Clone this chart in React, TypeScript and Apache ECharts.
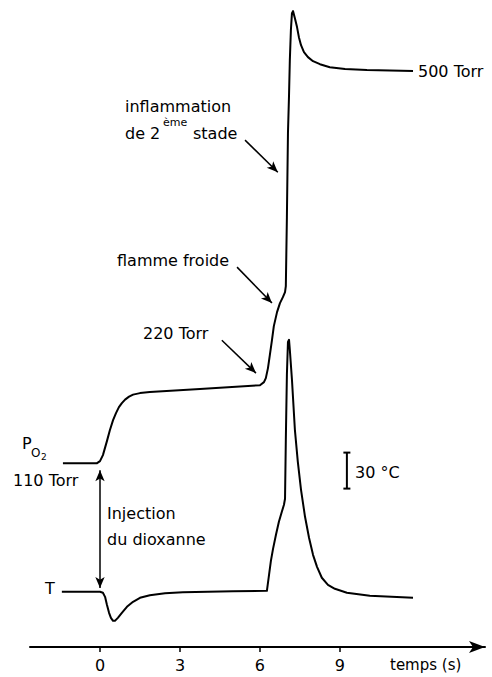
import React, { useEffect, useRef } from "react";
import * as echarts from "echarts";

// Time (s) and O2 pressure (Torr) of the pressure trace
const pressureTime = [-1.39, -0.11, 0, 0.11, 0.26, 0.37, 0.49, 0.6, 0.71, 0.82, 0.94, 1.09, 1.24, 1.5, 1.87, 3.75, 6.0, 6.15, 6.22, 6.3, 6.37, 6.45, 6.52, 6.64, 6.75, 6.86, 6.94, 6.97, 7.01, 7.05, 7.09, 7.12, 7.16, 7.2, 7.24, 7.31, 7.39, 7.46, 7.54, 7.65, 7.8, 7.99, 8.25, 8.62, 9.19, 10.01, 11.74];
const pressureTorr = [110, 110, 112, 118, 131.9, 142.8, 152.8, 159.8, 165.7, 169.7, 173.2, 176.2, 178.2, 179.7, 180.7, 183.7, 187.6, 190.6, 194.6, 204.6, 217.5, 232.4, 246.4, 260.3, 269.3, 275.2, 280.2, 286.2, 354.8, 438.4, 476.3, 511.1, 541, 557.9, 559.9, 552.9, 544, 534, 526, 519.1, 514.1, 510.1, 507.1, 504.1, 502.2, 501.2, 500.2];

// Time (s) and temperature change (°C) of the temperature trace
const tempTime = [-1.43, 0, 0.11, 0.19, 0.26, 0.34, 0.41, 0.49, 0.56, 0.67, 0.82, 1.01, 1.24, 1.5, 1.87, 2.44, 3.11, 4.99, 6.26, 6.34, 6.41, 6.49, 6.6, 6.71, 6.82, 6.9, 6.94, 6.97, 7.01, 7.05, 7.09, 7.12, 7.2, 7.31, 7.42, 7.54, 7.69, 7.84, 7.99, 8.14, 8.32, 8.55, 8.81, 9.26, 10.12, 11.74];
const tempDelta = [0, 0, -0.8, -4.2, -10.8, -17.5, -21.7, -24.2, -24.2, -21.7, -17.5, -12.5, -8.3, -5, -2.9, -1.25, -0.4, 0.4, 0.8, 14.2, 25.8, 35.8, 47.5, 58.3, 66.7, 72.5, 77.5, 126.7, 180.8, 208.3, 210, 201.7, 176.7, 135, 108.3, 85, 62.5, 45, 30.8, 20.8, 11.7, 5.8, 2.5, -0.8, -3.3, -5];

// x-axis ticks
const tickValues = [0, 3, 6, 9];

// 30 °C scale bar
const scaleBarTime = 9.26;
const scaleBarRange = [86, 116];

// annotation arrows [t1, P1, t2, P2] in pressure coordinates
const arrowInflammation = [5.44, 431.5, 6.67, 399.6];
const arrowFroide = [5.14, 305.1, 6.45, 269.3];
const arrow220 = [4.57, 232.4, 5.85, 199.6];
const arrowInjection = [0, 103, 0, -14.4];

const FONT = "DejaVu Sans";

export default function App() {
  const ref = useRef<HTMLDivElement>(null);
  useEffect(() => {
    if (!ref.current) return;
    const chart = echarts.init(ref.current, null, { renderer: "svg" });
    const pData = pressureTime.map((t, i) => [t, pressureTorr[i]]);
    const tData = tempTime.map((t, i) => [t, tempDelta[i]]);
    const arrowLine = (a: number[]) => [{ coord: [a[0], a[1]] }, { coord: [a[2], a[3]] }];
    const txt = (text: string, x: number, y: number, size = 16) => ({
      type: "text",
      x,
      y,
      style: { text, fill: "#000", font: `${size}px "${FONT}"`, verticalAlign: "middle" },
    });
    chart.setOption({
      animation: false,
      backgroundColor: "#fff",
      grid: { left: 30, right: 7, top: 5, bottom: 30, containLabel: false },
      xAxis: {
        type: "value",
        min: -2.625,
        max: 14.44,
        splitLine: { show: false },
        axisLine: { show: true, onZero: false, lineStyle: { color: "#000", width: 2 }, symbol: ["none", "arrow"], symbolSize: [9, 16] },
        axisTick: { show: true, customValues: tickValues, length: 5, lineStyle: { color: "#000", width: 1.5 } },
        axisLabel: { customValues: tickValues, color: "#000", fontFamily: FONT, fontSize: 16, margin: 10 },
      },
      yAxis: [
        { type: "value", min: -73, max: 566, show: false, splitLine: { show: false } },
        { type: "value", min: -46, max: 489, show: false, splitLine: { show: false } },
      ],
      series: [
        {
          type: "line",
          name: "PO2",
          yAxisIndex: 0,
          data: pData,
          symbol: "none",
          lineStyle: { color: "#000", width: 2, join: "round" },
          markLine: {
            silent: true,
            symbol: ["none", "arrow"],
            symbolSize: [7, 11],
            label: { show: false },
            lineStyle: { color: "#000", width: 1.5, type: "solid" },
            data: [arrowLine(arrowInflammation), arrowLine(arrowFroide), arrowLine(arrow220)],
          },
        },
        {
          type: "line",
          name: "T",
          yAxisIndex: 1,
          data: tData,
          symbol: "none",
          lineStyle: { color: "#000", width: 2, join: "round" },
        },
        {
          type: "line",
          name: "injection",
          yAxisIndex: 0,
          data: [[arrowInjection[0], arrowInjection[1]]],
          symbol: "none",
          lineStyle: { opacity: 0 },
          markLine: {
            silent: true,
            symbol: ["arrow", "arrow"],
            symbolSize: [7, 11],
            label: { show: false },
            lineStyle: { color: "#000", width: 1.5, type: "solid" },
            data: [arrowLine(arrowInjection)],
          },
        },
        {
          type: "line",
          name: "scale",
          yAxisIndex: 1,
          data: scaleBarRange.map((v) => [scaleBarTime, v]),
          symbol: "rect",
          symbolSize: [7, 2],
          itemStyle: { color: "#000" },
          lineStyle: { color: "#000", width: 2 },
        },
      ],
      graphic: [
        txt("500 Torr", 418, 71),
        txt("inflammation", 125, 106),
        txt("de 2", 125, 133),
        txt("ème", 163, 122, 11),
        txt("stade", 193, 133),
        txt("flamme froide", 117, 260),
        txt("220 Torr", 143, 333),
        txt("P", 22, 443),
        txt("O", 31, 453, 12),
        txt("2", 41, 457, 9),
        txt("110 Torr", 13, 480),
        txt("Injection", 107, 513),
        txt("du dioxanne", 107, 539),
        txt("T", 45, 588),
        txt("30 °C", 355, 472),
        txt("temps (s)", 390, 665, 15),
      ],
    });
    return () => chart.dispose();
  }, []);
  return <div ref={ref} style={{ position: "fixed", left: 0, top: 0, width: 492, height: 677 }} />;
}
